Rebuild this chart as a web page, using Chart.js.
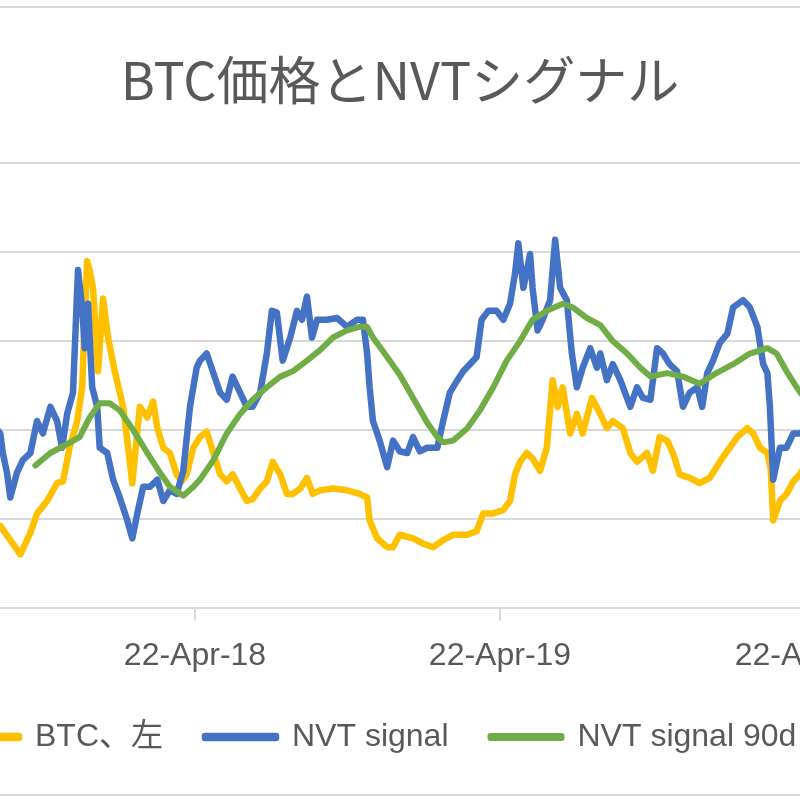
<!DOCTYPE html>
<html>
<head>
<meta charset="utf-8">
<script src="https://cdn.jsdelivr.net/npm/chart.js@4.4.1/dist/chart.umd.min.js"></script>
<style>
  html, body { margin: 0; padding: 0; width: 800px; height: 800px; overflow: hidden; background: #fff; }
  #frame { position: absolute; left: -20px; top: 6px; width: 836px; height: 786px; border: 2px solid #d9d9d9; }
  #chart { position: absolute; left: -130px; top: 0; }
</style>
</head>
<body>
<div id="frame"></div>
<canvas id="chart" width="1060" height="775"></canvas>
<script>
// BTC価格 (左軸, USD)
const btcDates = ['2017-08-20','2017-09-01','2017-09-13','2017-09-25','2017-10-07','2017-10-15','2017-10-27','2017-11-08','2017-11-15','2017-11-23',
  '2017-12-02','2017-12-08','2017-12-11','2017-12-14','2017-12-17','2017-12-21','2017-12-27','2018-01-02','2018-01-08','2018-01-16',
  '2018-01-26','2018-01-31','2018-02-06','2018-02-15','2018-02-24','2018-03-03','2018-03-08','2018-03-15','2018-03-23','2018-03-31',
  '2018-04-06','2018-04-12','2018-04-20','2018-04-28','2018-05-06','2018-05-14','2018-05-22','2018-05-30','2018-06-06','2018-06-15',
  '2018-06-23','2018-06-30','2018-07-09','2018-07-17','2018-07-24','2018-08-02','2018-08-10','2018-08-17','2018-08-26','2018-09-03',
  '2018-09-10','2018-09-19','2018-10-04','2018-10-21','2018-11-05','2018-11-14','2018-11-17','2018-11-26','2018-12-08','2018-12-15',
  '2018-12-23','2019-01-08','2019-01-20','2019-02-01','2019-02-13','2019-02-25','2019-03-14','2019-03-25','2019-04-02','2019-04-14',
  '2019-04-26','2019-05-04','2019-05-10','2019-05-16','2019-05-24','2019-05-31','2019-06-09','2019-06-17','2019-06-24','2019-06-30',
  '2019-07-06','2019-07-15','2019-07-23','2019-07-30','2019-08-10','2019-08-20','2019-08-28','2019-09-04','2019-09-16','2019-09-25',
  '2019-10-03','2019-10-15','2019-10-22','2019-10-30','2019-11-08','2019-11-15','2019-11-23','2019-12-05','2019-12-17','2019-12-29',
  '2020-01-10','2020-01-19','2020-01-31','2020-02-12','2020-02-19','2020-02-27','2020-03-07','2020-03-11','2020-03-14','2020-03-22',
  '2020-03-30','2020-04-07','2020-04-15','2020-05-01'];
const btcPrices = [4900,4600,3800,3000,4200,5300,6000,7000,7100,9000,
  10500,12400,16200,19500,19000,18000,13300,17400,15200,13300,
  11300,9400,7000,11300,10700,11600,10100,9000,8700,7500,
  7100,7500,9000,9600,9900,8700,7500,7100,7500,6700,
  6000,6100,6700,7100,8200,7500,6400,6400,6700,7300,
  6400,6600,6700,6600,6400,6200,4900,3900,3400,3400,
  4100,3900,3600,3400,3800,4100,4100,4300,5300,5300,
  5500,6000,7500,8200,8700,8400,7700,9000,12800,11300,
  12400,9800,10900,9800,11800,10900,10100,10500,10100,8700,
  8200,8700,7700,9600,9400,8700,7500,7300,7000,7300,
  8200,8800,9600,10100,9800,9000,8700,7800,4900,6000,
  6400,7100,7500,8700];

// NVT signal (右軸)
const nvtDates = ['2017-08-20','2017-09-01','2017-09-04','2017-09-09','2017-09-13','2017-09-21','2017-09-28','2017-10-07','2017-10-15','2017-10-22',
  '2017-10-31','2017-11-08','2017-11-14','2017-11-20','2017-11-27','2017-12-03','2017-12-08','2017-12-11','2017-12-15','2017-12-20',
  '2017-12-26','2017-12-29','2018-01-07','2018-01-14','2018-01-22','2018-01-31','2018-02-06','2018-02-12','2018-02-19','2018-02-27',
  '2018-03-08','2018-03-15','2018-03-23','2018-03-31','2018-04-08','2018-04-16','2018-04-24','2018-04-28','2018-05-06','2018-05-14',
  '2018-05-22','2018-05-30','2018-06-06','2018-06-15','2018-06-23','2018-06-30','2018-07-09','2018-07-17','2018-07-23','2018-07-29',
  '2018-08-05','2018-08-14','2018-08-22','2018-08-28','2018-09-03','2018-09-09','2018-09-15','2018-09-27','2018-10-09','2018-10-21',
  '2018-11-02','2018-11-09','2018-11-14','2018-11-17','2018-11-21','2018-11-29','2018-12-08','2018-12-15','2018-12-23','2019-01-01',
  '2019-01-08','2019-01-16','2019-01-25','2019-02-06','2019-02-13','2019-02-21','2019-03-02','2019-03-09','2019-03-17','2019-03-25',
  '2019-03-31','2019-04-08','2019-04-18','2019-04-26','2019-05-04','2019-05-10','2019-05-14','2019-05-20','2019-05-28','2019-05-31',
  '2019-06-06','2019-06-12','2019-06-21','2019-06-27','2019-07-03','2019-07-11','2019-07-17','2019-07-23','2019-07-30','2019-08-08',
  '2019-08-16','2019-08-20','2019-08-28','2019-09-04','2019-09-13','2019-09-25','2019-10-03','2019-10-10','2019-10-19','2019-10-27',
  '2019-11-03','2019-11-11','2019-11-20','2019-11-27','2019-12-05','2019-12-14','2019-12-20','2019-12-26','2020-01-02','2020-01-10',
  '2020-01-19','2020-01-26','2020-02-07','2020-02-15','2020-02-24','2020-03-02','2020-03-07','2020-03-10','2020-03-14','2020-03-22',
  '2020-03-30','2020-04-07','2020-04-15','2020-05-01'];
const nvtValues = [105,98,87,76,62,76,83,87,105,98,
  113,105,90,109,121,190,169,146,171,124,
  113,90,87,72,62,49,39,53,68,68,
  72,60,66,64,77,113,135,139,143,132,
  121,117,130,121,113,113,121,143,167,166,
  139,152,167,162,175,152,162,162,163,158,
  162,162,143,124,105,94,79,94,88,87,
  96,88,90,90,105,121,128,133,137,141,
  162,167,167,162,171,188,205,180,199,180,
  156,162,173,207,180,173,143,124,135,146,
  135,143,128,137,128,113,124,118,117,146,
  143,137,133,113,121,124,113,132,139,149,
  154,169,173,169,158,137,132,113,72,90,
  90,98,98,103];

// NVT signal 90日移動平均 (右軸)
const maDates = ['2017-10-13','2017-10-31','2017-11-20','2017-12-05','2017-12-17','2017-12-29','2018-01-10','2018-01-22','2018-02-07','2018-02-24',
  '2018-03-11','2018-03-23','2018-04-08','2018-04-20','2018-04-28','2018-05-14','2018-05-30','2018-06-15','2018-06-30','2018-07-17',
  '2018-08-02','2018-08-17','2018-09-03','2018-09-19','2018-10-04','2018-10-21','2018-11-05','2018-11-14','2018-11-21','2018-12-08',
  '2018-12-23','2019-01-08','2019-01-25','2019-02-06','2019-02-13','2019-02-25','2019-03-14','2019-03-29','2019-04-14','2019-04-30',
  '2019-05-16','2019-05-31','2019-06-17','2019-07-06','2019-07-18','2019-08-04','2019-08-20','2019-09-04','2019-09-21','2019-10-07',
  '2019-10-19','2019-11-08','2019-11-27','2019-12-17','2020-01-06','2020-01-26','2020-02-15','2020-03-07','2020-03-18','2020-03-30',
  '2020-04-11','2020-05-01'];
const maValues = [80,87,92,96,107,115,115,111,100,87,
  76,68,63,68,72,83,98,109,117,124,
  130,133,139,145,152,156,158,158,152,141,
  131,118,104,96,93,94,101,111,124,139,
  150,162,167,171,169,163,159,150,143,135,
  130,132,130,126,132,137,143,146,143,133,
  124,111];

const seriesNames = ['BTC、左', 'NVT signal', 'NVT signal 90d MA'];
const seriesColors = ['#FFC000', '#4472C4', '#70AD47'];
const tickDates = ['2018-04-22', '2019-04-22', '2020-04-22'];
const monthNames = ['Jan','Feb','Mar','Apr','May','Jun','Jul','Aug','Sep','Oct','Nov','Dec'];

const toDay = s => Date.parse(s + 'T00:00:00Z') / 86400000;
const toPoints = (dates, vals) => dates.map((d, i) => ({ x: toDay(d), y: vals[i] }));

const refDay = toDay('2018-04-22');
const labelFont = { family: '"Liberation Sans", "Noto Sans CJK JP", sans-serif', size: 32 };

// 凡例の位置を微調整
const legendShift = {
  id: 'legendShift',
  afterLayout(chart) {
    const l = chart.legend;
    l.left += 36;
    l.right += 36;
    l.top -= 12;
    l.bottom -= 12;
  }
};

const ctx = document.getElementById('chart').getContext('2d');
new Chart(ctx, {
  type: 'line',
  data: {
    datasets: [
      { label: seriesNames[0], data: toPoints(btcDates, btcPrices), yAxisID: 'y', order: 3, borderWidth: 6.5 },
      { label: seriesNames[1], data: toPoints(nvtDates, nvtValues), yAxisID: 'y1', order: 2, borderWidth: 6.5 },
      { label: seriesNames[2], data: toPoints(maDates, maValues), yAxisID: 'y1', order: 1, borderWidth: 6 }
    ].map((ds, i) => Object.assign(ds, {
      borderColor: seriesColors[i],
      backgroundColor: seriesColors[i],
      borderJoinStyle: 'round',
      borderCapStyle: 'round',
      pointRadius: 0,
      tension: 0,
      fill: false
    }))
  },
  plugins: [legendShift],
  options: {
    responsive: false,
    animation: false,
    layout: { autoPadding: false, padding: 0 },
    plugins: {
      title: {
        display: true,
        text: 'BTC価格とNVTシグナル',
        color: '#595959',
        font: { family: '"Noto Sans CJK JP", sans-serif', size: 52, weight: 'normal' },
        padding: { top: 49, bottom: 52 }
      },
      legend: {
        position: 'bottom',
        align: 'start',
        labels: {
          color: '#595959',
          font: labelFont,
          boxWidth: 71,
          boxHeight: 2,
          padding: 42,
          sort: (a, b) => a.datasetIndex - b.datasetIndex
        }
      },
      tooltip: { enabled: false }
    },
    scales: {
      x: {
        type: 'linear',
        min: refDay - 388.9,
        max: refDay + 879.6,
        afterBuildTicks: axis => { axis.ticks = tickDates.map(d => ({ value: toDay(d) })); },
        ticks: {
          color: '#595959',
          font: labelFont,
          padding: 16,
          maxRotation: 0,
          autoSkip: false,
          callback: v => {
            const d = new Date(v * 86400000);
            return d.getUTCDate() + '-' + monthNames[d.getUTCMonth()] + '-' + String(d.getUTCFullYear()).slice(2);
          }
        },
        grid: { drawOnChartArea: false, drawTicks: true, tickLength: 13, color: '#d9d9d9', lineWidth: 2 },
        border: { display: true, color: '#d9d9d9', width: 2 }
      },
      y: {
        position: 'left',
        min: 0, max: 25000,
        ticks: { display: false, stepSize: 5000 },
        grid: { color: '#d9d9d9', lineWidth: 2, drawTicks: false },
        border: { display: false },
        afterFit: s => { s.width = 0; }
      },
      y1: {
        position: 'right',
        min: 0, max: 250,
        ticks: { display: false, stepSize: 50 },
        grid: { drawOnChartArea: false, drawTicks: false },
        border: { display: false },
        afterFit: s => { s.width = 0; }
      }
    }
  }
});
</script>
</body>
</html>
